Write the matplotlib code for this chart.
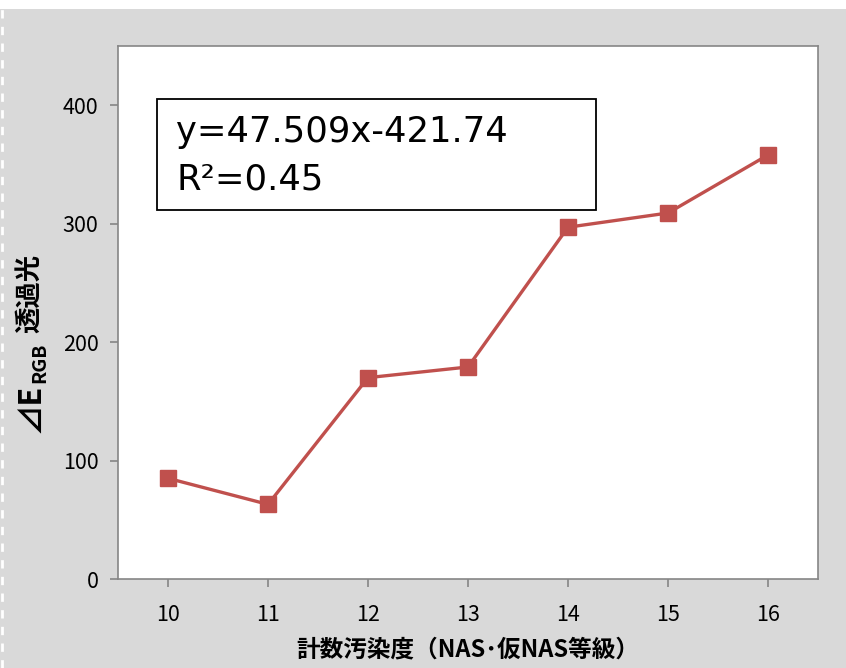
import matplotlib
matplotlib.use("Agg")
import matplotlib.pyplot as plt
from matplotlib.patches import Rectangle
from matplotlib.lines import Line2D

grades = [10, 11, 12, 13, 14, 15, 16]
delta_e = [85, 63, 170, 179, 297, 309, 358]
yticks = [0, 100, 200, 300, 400]
eq_line1 = "y=47.509x-421.74"
eq_line2 = "R²=0.45"
xlabel = "計数汚染度（NAS･仮NAS等級）"

W, H = 846, 668
fig = plt.figure(figsize=(W / 100, H / 100), dpi=100, facecolor="#d9d9d9")

def fx(px):
    return px / W

def fy(py):
    return 1 - py / H

fp = ["Noto Sans CJK JP", "DejaVu Sans"]

# top white band and left dashed edge
fig.patches.append(Rectangle((0, fy(9)), 1, 9 / H, transform=fig.transFigure,
                             facecolor="white", edgecolor="none", zorder=0))
fig.lines.append(Line2D([fx(2), fx(2)], [0, fy(9)], transform=fig.transFigure,
                        color="white", lw=2, ls=(0, (3, 3))))

ax = fig.add_axes([fx(118), fy(579), fx(818) - fx(118), fy(46) - fy(579)])
ax.set_facecolor("white")
ax.plot(grades, delta_e, color="#c0504d", lw=2.4, marker="s", ms=11.5,
        markerfacecolor="#c0504d", markeredgecolor="#c0504d", zorder=3)

ax.set_xlim(9.5, 16.5)
ax.set_ylim(0, 450)
ax.set_xticks(grades)
ax.set_yticks(yticks)
for s in ax.spines.values():
    s.set_color("#868686")
    s.set_linewidth(1.2)
ax.tick_params(axis="both", direction="out", length=6, width=1.2, color="#868686",
               labelcolor="black")
ax.tick_params(axis="x", pad=12)
ax.tick_params(axis="y", pad=8)
for lab in ax.get_xticklabels() + ax.get_yticklabels():
    lab.set_family(fp)
    lab.set_fontsize(15.5)

ax.set_xlabel(xlabel, family=fp, fontweight="bold", fontsize=17, labelpad=8)

# y label pieces
fig.text(fx(31), fy(433), "⊿E", rotation=90, ha="center", va="bottom",
         family=fp, fontweight="bold", fontsize=22)
fig.text(fx(40), fy(383), "RGB", rotation=90, ha="center", va="bottom",
         family=fp, fontweight="bold", fontsize=14)
fig.text(fx(30), fy(333), "透過光", rotation=90, ha="center", va="bottom",
         family=fp, fontweight="bold", fontsize=19)

# equation box
fig.patches.append(Rectangle((fx(157), fy(210)), fx(596) - fx(157), fy(99) - fy(210),
                             transform=fig.transFigure, facecolor="white",
                             edgecolor="black", lw=1.3, zorder=5))
fig.text(fx(176), fy(142), eq_line1, fontsize=25.5, family="DejaVu Sans", zorder=6)
fig.text(fx(176), fy(189), eq_line2, fontsize=25.5, family="DejaVu Sans", zorder=6)

fig.savefig("out.png", dpi=100, facecolor=fig.get_facecolor())
